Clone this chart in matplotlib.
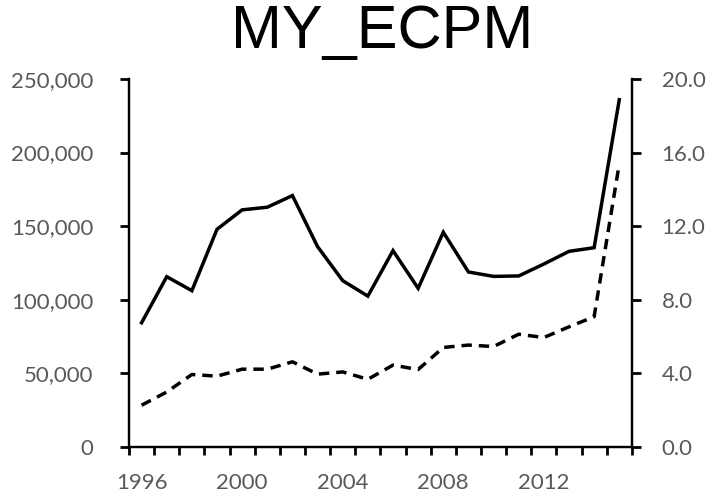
import numpy as np
import matplotlib.pyplot as plt
from matplotlib.ticker import FuncFormatter, FixedLocator, NullFormatter

years = list(range(1996, 2016))
ecpm = [84400, 115700, 106200, 147900, 161100, 162900, 170800, 136100, 113000, 102500,
        133400, 107800, 145900, 118900, 115900, 116200, 124300, 132900, 135400, 235900]
ratio = [2.27, 2.99, 3.94, 3.85, 4.23, 4.23, 4.63, 3.96, 4.08, 3.68,
         4.45, 4.21, 5.41, 5.54, 5.46, 6.13, 5.95, 6.53, 7.08, 15.39]
year_labels = [1996, 2000, 2004, 2008, 2012]

tick_font = 'Lato'
grey = '#595959'

fig = plt.figure(figsize=(7.18, 4.98), dpi=100)
ax = fig.add_axes([0.1797, 0.1024, 0.7003, 0.739])
ax2 = ax.twinx()

x = np.arange(len(years))
ax.plot(x, ecpm, color='black', lw=2.5, solid_joinstyle='miter')
ax2.plot(x, ratio, color='black', lw=2.5, dashes=[3.0, 2.0])

ax.set_xlim(-0.5, len(years) - 0.5)
ax.set_ylim(0, 250000)
ax2.set_ylim(0, 20)
ax.set_yticks(np.arange(0, 250001, 50000))
ax2.set_yticks(np.arange(0, 20.1, 4))
ax.yaxis.set_major_formatter(FuncFormatter(lambda v, p: f'{int(v):,}'))
ax2.yaxis.set_major_formatter(FuncFormatter(lambda v, p: f'{v:.1f}'))

# labels at category centres (major), tick marks between categories (minor)
bounds = np.arange(-0.5, len(years), 1.0)
ax.set_xticks([years.index(y) for y in year_labels])
ax.set_xticklabels([str(y) for y in year_labels])
ax.xaxis.set_minor_locator(FixedLocator(bounds))
ax.xaxis.set_minor_formatter(NullFormatter())
ax.tick_params(axis='x', which='major', length=0, pad=19, labelsize=16, labelcolor=grey)
ax.tick_params(axis='x', which='minor', direction='out', length=6, width=2, color='black')
ax.tick_params(axis='y', direction='out', length=6.5, width=2, color='black', pad=19,
               labelsize=16, labelcolor=grey)
ax2.tick_params(axis='y', direction='out', length=6.5, width=2, color='black', pad=15,
                labelsize=16, labelcolor=grey)

for a in (ax, ax2):
    for lab in a.get_xticklabels() + a.get_yticklabels():
        lab.set_fontfamily(tick_font)
    a.spines['top'].set_visible(False)
    for s in ('left', 'right', 'bottom'):
        a.spines[s].set_linewidth(1.6)

fig.text(0.532, 0.935, 'MY_ECPM', ha='center', va='center', fontsize=44, family='Liberation Sans')

fig.savefig('out.png', dpi=100)
